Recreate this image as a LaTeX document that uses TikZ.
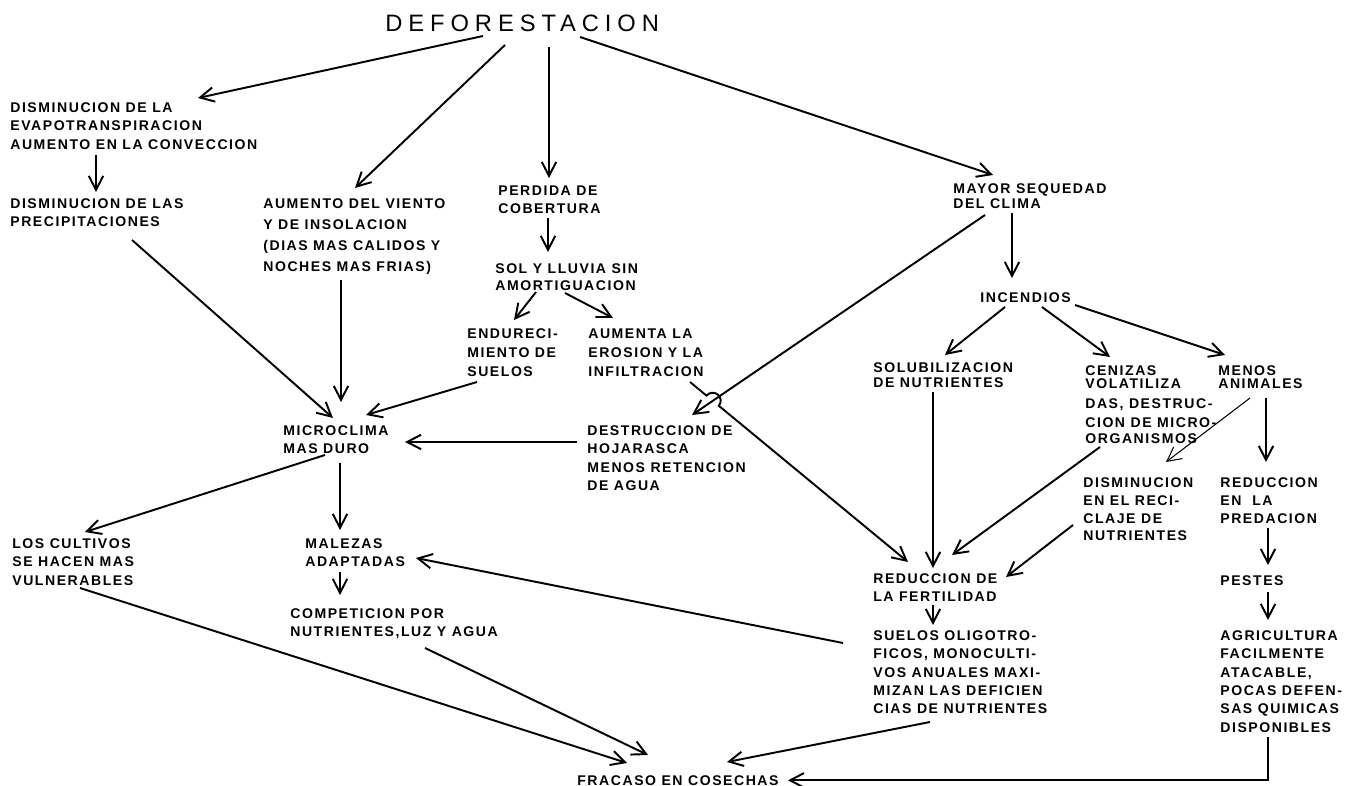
\documentclass[tikz,border=0pt]{standalone}
\usepackage{fontspec}
\usepackage{tikz}
\usetikzlibrary{arrows.meta}
\usetikzlibrary{calc}
\newfontfamily\lblfont[LetterSpace=11]{Liberation Sans}
\newfontfamily\ttlfont[LetterSpace=25]{Liberation Sans}

\begin{document}
\begin{tikzpicture}[x=0.02cm,y=-0.02cm,
  every node/.style={anchor=north west,inner sep=0pt,align=left,font=\lblfont\bfseries\fontsize{8}{10.5}\selectfont},
  lns/.style={font=\lblfont\bfseries\fontsize{8}{#1}\selectfont},
  arr/.style={draw,line width=1.1pt,-{Straight Barb[length=2.8mm,width=2.9mm]}}]
\useasboundingbox (0,0) rectangle (1348,786);
\node[font=\ttlfont\fontsize{13.5}{16}\selectfont] (defor) at (385,15) {DEFORESTACION};
\node (evap) at (10,102) {DISMINUCION DE LA\\EVAPOTRANSPIRACION\\AUMENTO EN LA CONVECCION};
\node (precip) at (10,198) {DISMINUCION DE LAS\\PRECIPITACIONES};
\node[lns=12] (viento) at (263,198) {AUMENTO DEL VIENTO\\Y DE INSOLACION\\(DIAS MAS CALIDOS Y\\NOCHES MAS FRIAS)};
\node (perdida) at (498,185) {PERDIDA DE\\COBERTURA};
\node[lns=9.8] (sol) at (495,263) {SOL Y LLUVIA SIN\\AMORTIGUACION};
\node[lns=11] (endur) at (467,328) {ENDURECI-\\MIENTO DE\\SUELOS};
\node[lns=11] (erosion) at (588,328) {AUMENTA LA\\EROSION Y LA\\INFILTRACION};
\node (destr) at (587,425) {DESTRUCCION DE\\HOJARASCA\\MENOS RETENCION\\DE AGUA};
\node (micro) at (283,425) {MICROCLIMA\\MAS DURO};
\node (cultivos) at (12,538) {LOS CULTIVOS\\SE HACEN MAS\\VULNERABLES};
\node (malezas) at (305,538) {MALEZAS\\ADAPTADAS};
\node (compet) at (290,608) {COMPETICION POR\\NUTRIENTES,LUZ Y AGUA};
\node[lns=9] (seq) at (953,183) {MAYOR SEQUEDAD\\DEL CLIMA};
\node (incend) at (980,292) {INCENDIOS};
\node[lns=9] (solub) at (873,362) {SOLUBILIZACION\\DE NUTRIENTES};
\node (cenizas) at (1085,365) {CENIZAS\\[-3pt]VOLATILIZA\\[0.7pt]DAS, DESTRUC-\\[0.7pt]CION DE MICRO-\\[-1.5pt]ORGANISMOS};
\node[lns=7.6] (menos) at (1218,365) {MENOS\\ANIMALES};
\node[lns=10.2] (disminr) at (1083,477) {DISMINUCION\\EN EL RECI-\\CLAJE DE\\NUTRIENTES};
\node[lns=10.2] (redpred) at (1220,477) {REDUCCION\\EN \ LA\\PREDACION};
\node (pestes) at (1220,575) {PESTES};
\node (agric) at (1220,630) {AGRICULTURA\\FACILMENTE\\ATACABLE,\\POCAS DEFEN-\\SAS QUIMICAS\\DISPONIBLES};
\node (fert) at (873,573) {REDUCCION DE\\LA FERTILIDAD};
\node (suelos) at (873,630) {SUELOS OLIGOTRO-\\FICOS, MONOCULTI-\\VOS ANUALES MAXI-\\MIZAN LAS DEFICIEN\\CIAS DE NUTRIENTES};
\node (fracaso) at (577,775) {FRACASO EN COSECHAS};
\draw[arr] ($(defor.north west)+(98,21)$) -- ($(evap.north west)+(188,-4)$);
\draw[arr] ($(defor.north west)+(120,30)$) -- ($(viento.north west)+(92,-10)$);
\draw[arr] ($(defor.north west)+(164,32)$) -- ($(perdida.north west)+(51,-7)$);
\draw[arr] ($(defor.north west)+(195,22)$) -- ($(seq.north west)+(40,-8)$);
\draw[arr] ($(evap.north west)+(86,53)$) -- ($(precip.north west)+(86,-6)$);
\draw[arr] ($(precip.north west)+(122,42)$) -- ($(micro.north west)+(50,-7)$);
\draw[arr] ($(viento.north west)+(78,82)$) -- ($(micro.north west)+(58,-23)$);
\draw[arr] ($(perdida.north west)+(50,33)$) -- ($(sol.north west)+(53,-11)$);
\draw[arr] ($(sol.north west)+(41,29)$) -- ($(endur.north west)+(47,-8)$);
\draw[arr] ($(sol.north west)+(70,30)$) -- ($(erosion.north west)+(25,-10)$);
\draw[arr] ($(endur.north west)+(10,54)$) -- ($(micro.north west)+(83,-10)$);
\draw[arr] ($(destr.north west)+(-10,17)$) -- ($(micro.north west)+(122,17)$);
\draw[arr] ($(seq.north west)+(32,32)$) -- ($(destr.north west)+(105,-10)$);
\draw[arr] let \p1=($(erosion.north west)+(102,54)$), \p2=($(fert.north west)+(35,-11)$) in
  (\p1) -- ($(\p1)!0.104!(\p2)!0.16cm!(\p1)$) arc[start angle=140.5,end angle=-39.5,radius=0.16cm] -- (\p2);
\draw[arr] ($(seq.north west)+(59,30)$) -- ($(incend.north west)+(32,-14)$);
\draw[arr] ($(incend.north west)+(25,15)$) -- ($(solub.north west)+(72,-7)$);
\draw[arr] ($(incend.north west)+(62,15)$) -- ($(cenizas.north west)+(25,-8)$);
\draw[arr] ($(incend.north west)+(95,13)$) -- ($(menos.north west)+(7,-10)$);
\draw[arr] ($(solub.north west)+(60,30)$) -- ($(fert.north west)+(60,-5)$);
\draw[arr] ($(cenizas.north west)+(15,82)$) -- ($(fert.north west)+(79,-18)$);
\draw[arr,line width=0.6pt] ($(menos.north west)+(32,33)$) -- ($(disminr.north west)+(83,-15)$);
\draw[arr] ($(menos.north west)+(48,33)$) -- ($(redpred.north west)+(46,-15)$);
\draw[arr] ($(disminr.north west)+(-10,48)$) -- ($(fert.north west)+(133,4)$);
\draw[arr] ($(redpred.north west)+(48,51)$) -- ($(pestes.north west)+(48,-10)$);
\draw[arr] ($(pestes.north west)+(48,17)$) -- ($(agric.north west)+(48,-10)$);
\draw[arr] ($(fert.north west)+(60,32)$) -- ($(suelos.north west)+(60,-5)$);
\draw[arr] ($(micro.north west)+(42,30)$) -- ($(cultivos.north west)+(73,-6)$);
\draw[arr] ($(micro.north west)+(57,38)$) -- ($(malezas.north west)+(35,-8)$);
\draw[arr] ($(malezas.north west)+(35,34)$) -- ($(compet.north west)+(50,-13)$);
\draw[arr] ($(suelos.north west)+(-30,13)$) -- ($(malezas.north west)+(111,20)$);
\draw[arr] ($(cultivos.north west)+(68,50)$) -- ($(fracaso.north west)+(50,-12)$);
\draw[arr] ($(compet.north west)+(135,40)$) -- ($(fracaso.north west)+(71,-20)$);
\draw[arr] ($(suelos.north west)+(57,92)$) -- ($(fracaso.north west)+(150,-13)$);
\draw[arr] ($(agric.north west)+(48,107)$) |- ($(fracaso.east)+(9,0)$);
\end{tikzpicture}
\end{document}
